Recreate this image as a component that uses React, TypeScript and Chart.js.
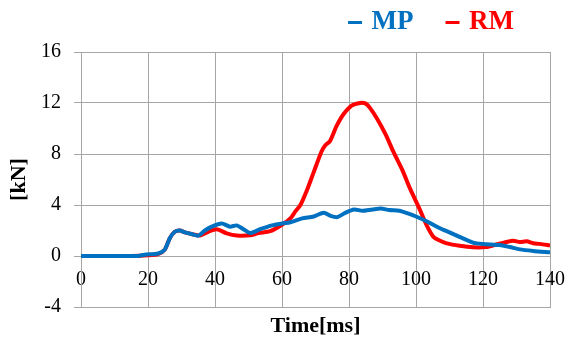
import React, { useEffect, useRef } from "react";
import { Chart, registerables } from "chart.js";

Chart.register(...registerables);

const seriesNames = ["MP", "RM"];
const seriesColors = ["#0070C0", "#FF0000"];

const mpTime = [0, 10, 17, 19, 23, 25, 26.5, 28, 29.5, 31, 33, 35, 37, 39, 42, 44.5, 46.5, 48.5, 50.5, 53.5, 57, 60, 62.5, 66, 69.5, 72.5, 74.5, 76.5, 79, 81.5, 84, 87, 89.5, 92, 95, 98, 100, 103, 107, 110, 113, 117, 120, 125, 128, 131, 135, 140];
const mpForce = [0, 0, 0, 0.1, 0.2, 0.5, 1.4, 1.9, 2.0, 1.85, 1.72, 1.6, 2.0, 2.3, 2.55, 2.3, 2.4, 2.1, 1.8, 2.1, 2.4, 2.55, 2.65, 2.95, 3.1, 3.4, 3.15, 3.05, 3.4, 3.65, 3.55, 3.65, 3.72, 3.6, 3.55, 3.3, 3.1, 2.75, 2.2, 1.85, 1.5, 1.05, 0.94, 0.86, 0.7, 0.52, 0.4, 0.29];

const rmTime = [0, 15, 20, 23, 25, 26.5, 28, 29.5, 31, 33, 35.5, 38, 40.5, 43.5, 46.5, 50.5, 53, 56.5, 60, 62.5, 64, 65.5, 67.5, 69.5, 71.8, 73, 74.3, 76.3, 78.3, 80.8, 83.3, 85, 86.3, 88.3, 91, 93.2, 96, 98.2, 101.2, 103.2, 105.2, 107.2, 109.2, 113, 117, 121, 124, 127, 129, 131, 133, 135, 137, 140];
const rmForce = [0, 0, 0.05, 0.15, 0.5, 1.4, 1.9, 2.0, 1.85, 1.72, 1.6, 1.9, 2.1, 1.77, 1.6, 1.62, 1.8, 1.95, 2.45, 2.95, 3.5, 4.0, 5.2, 6.6, 8.2, 8.7, 9.0, 10.2, 11.1, 11.8, 12.0, 11.95, 11.6, 10.8, 9.5, 8.2, 6.7, 5.3, 3.6, 2.4, 1.5, 1.2, 0.99, 0.8, 0.68, 0.7, 0.9, 1.1, 1.2, 1.1, 1.15, 1.0, 0.95, 0.82];

const xMin = 0;
const xMax = 140;
const xStep = 20;
const yMin = -4;
const yMax = 16;
const yStep = 4;
const xTitle = "Time[ms]";
const yTitle = "[kN]";

const FONT = "'Liberation Serif', 'Times New Roman', serif";
const GRID = "#a6a6a6";

export default function App() {
  const ref = useRef<HTMLCanvasElement | null>(null);

  useEffect(() => {
    if (!ref.current) return;
    const toPts = (t: number[], v: number[]) => t.map((x, i) => ({ x, y: v[i] }));
    const chart = new Chart(ref.current, {
      type: "line",
      data: {
        datasets: [
          {
            label: seriesNames[0],
            data: toPts(mpTime, mpForce),
            borderColor: seriesColors[0],
            backgroundColor: seriesColors[0],
            borderWidth: 4,
            pointRadius: 0,
            tension: 0.25,
          },
          {
            label: seriesNames[1],
            data: toPts(rmTime, rmForce),
            borderColor: seriesColors[1],
            backgroundColor: seriesColors[1],
            borderWidth: 4,
            pointRadius: 0,
            tension: 0.25,
          },
        ],
      },
      options: {
        animation: false,
        responsive: true,
        maintainAspectRatio: false,
        layout: { padding: { top: -27, left: 0, right: 18, bottom: 0 } },
        plugins: {
          tooltip: { enabled: false },
          legend: {
            position: "top",
            align: "end",
            fullSize: false,
            weight: 3000,
            labels: {
              usePointStyle: true,
              boxWidth: 6,
              boxHeight: 9.9,
              padding: 36,
              font: { family: FONT, size: 27, weight: "bold" },
              generateLabels: () =>
                seriesNames.map((n, i) => ({
                  text: n,
                  fillStyle: seriesColors[i],
                  strokeStyle: seriesColors[i],
                  fontColor: seriesColors[i],
                  lineWidth: 3,
                  pointStyle: "line",
                  hidden: false,
                  datasetIndex: i,
                })),
            },
          },
          subtitle: {
            display: true,
            text: "",
            padding: 0,
            font: { size: 6, lineHeight: 1 },
          },
        },
        scales: {
          x: {
            type: "linear",
            min: xMin,
            max: xMax,
            afterFit: (s: any) => {
              s.height = 31;
              s.paddingLeft = 0;
              s.paddingRight = 0;
            },
            ticks: {
              stepSize: xStep,
              mirror: true,
              padding: 15.5,
              color: "#000",
              maxRotation: 0,
              autoSkip: false,
              font: { family: FONT, size: 20 },
            },
            grid: { color: GRID, lineWidth: 1, drawTicks: false },
            border: { color: GRID, width: 1 },
            title: {
              display: true,
              text: xTitle,
              color: "#000",
              padding: 0,
              font: { family: FONT, size: 22, weight: "bold", lineHeight: 1.05 },
            },
          },
          y: {
            min: yMin,
            max: yMax,
            afterFit: (s: any) => {
              s.width = 81;
            },
            ticks: {
              stepSize: yStep,
              padding: 13,
              color: "#000",
              font: { family: FONT, size: 20 },
            },
            grid: { color: GRID, lineWidth: 1, tickLength: 7 },
            border: { color: GRID, width: 1 },
            title: {
              display: true,
              text: yTitle,
              color: "#000",
              padding: { top: 6, bottom: 0 },
              font: { family: FONT, size: 22, weight: "bold", lineHeight: 1.2 },
            },
          },
        },
      },
    });
    return () => chart.destroy();
  }, []);

  return (
    <div style={{ position: "absolute", left: 0, top: 0, width: 568, height: 338 }}>
      <canvas ref={ref} />
    </div>
  );
}
